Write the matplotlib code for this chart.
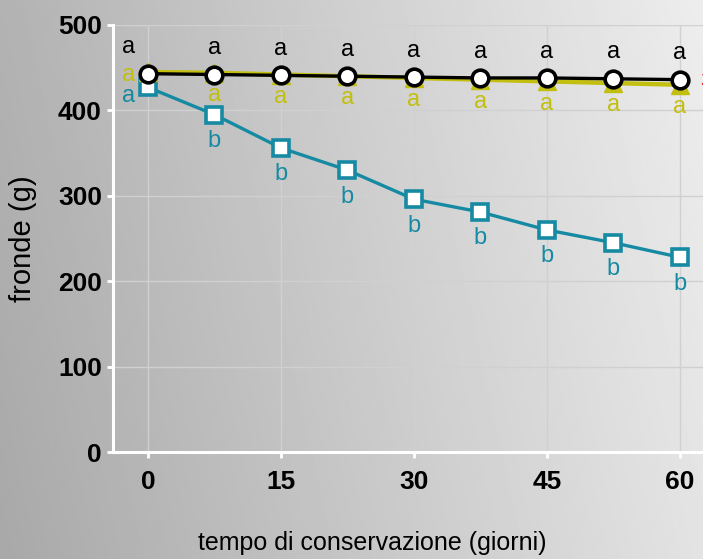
import numpy as np
import matplotlib
matplotlib.use("Agg")
import matplotlib.pyplot as plt

plt.rcParams["font.family"] = ["Liberation Sans", "DejaVu Sans"]

# giorni di conservazione e peso delle fronde (g)
days = [0, 7.5, 15, 22.5, 30, 37.5, 45, 52.5, 60]
fronde_nero = [443, 442, 441, 440, 439, 438, 438, 437, 436]
fronde_giallo = [445, 444, 442, 440, 438, 436, 434, 432, 430]
fronde_blu = [427, 395, 356, 330, 296, 281, 260, 245, 228]

lett_nero = ["a"] * 9
lett_giallo = ["a"] * 9
lett_blu = ["a"] + ["b"] * 8

x_ticks = [0, 15, 30, 45, 60]
y_ticks = [0, 100, 200, 300, 400, 500]

C_NERO = "#000000"
C_GIALLO = "#c2bf10"
C_BLU = "#168aa3"

fig = plt.figure(figsize=(7.03, 5.59), dpi=100)

# sfondo sfumato grigio
bg = fig.add_axes([0, 0, 1, 1], zorder=-10)
gx, gy = np.meshgrid(np.linspace(0, 1, 300), np.linspace(0, 1, 240))
shade = 0.66 + 0.23 * gx + 0.04 * gy
bg.imshow(shade, cmap="gray", vmin=0, vmax=1, aspect="auto",
          extent=[0, 1, 0, 1], origin="lower")
bg.axis("off")

ax = fig.add_axes([0.1607, 0.1914, 0.8393, 0.7639])
ax.set_facecolor("none")
ax.set_xlim(-3.95, 62.6)
ax.set_ylim(0, 500)

for sp in ["top", "right"]:
    ax.spines[sp].set_visible(False)
for sp in ["left", "bottom"]:
    ax.spines[sp].set_color("white")
    ax.spines[sp].set_linewidth(2.2)

ax.set_xticks(x_ticks)
ax.set_yticks(y_ticks)
ax.tick_params(colors="white", width=2, length=4, labelcolor="black",
               labelsize=19)
ax.tick_params(axis="x", pad=9)
ax.tick_params(axis="y", pad=4)
for lab in ax.get_xticklabels() + ax.get_yticklabels():
    lab.set_fontweight("bold")
ax.grid(True, color="#d0d0d0", lw=1)
ax.set_axisbelow(True)

ax.set_xlabel("tempo di conservazione (giorni)", fontsize=18, va="center")
ax.xaxis.set_label_coords(0.439, -0.213)
ax.set_ylabel("fronde (g)", fontsize=21, va="center")
ax.yaxis.set_label_coords(-0.153, 0.50)

ax.plot(days, fronde_blu, color=C_BLU, lw=2.4, marker="s", ms=12,
        mfc="white", mec=C_BLU, mew=2.6, zorder=3)
ax.plot(days, fronde_giallo, color=C_GIALLO, lw=3.2, marker="^", ms=13,
        mfc=C_GIALLO, mec=C_GIALLO, zorder=4)
ax.plot(days, fronde_nero, color=C_NERO, lw=2.4, marker="o", ms=12,
        mfc="white", mec=C_NERO, mew=2.6, zorder=5)

ann = dict(textcoords="offset points", ha="center", va="center",
           fontsize=17, zorder=6)
for i, (d, v, t) in enumerate(zip(days, fronde_nero, lett_nero)):
    off = (-14, 19) if i == 0 else (0, 19)
    ax.annotate(t, (d, v), xytext=off, color=C_NERO, **ann)
for i, (d, v, t) in enumerate(zip(days, fronde_giallo, lett_giallo)):
    off = (-14, -2) if i == 0 else (0, -16)
    ax.annotate(t, (d, v), xytext=off, color=C_GIALLO, **ann)
for i, (d, v, t) in enumerate(zip(days, fronde_blu, lett_blu)):
    off = (-14, -6) if i == 0 else (0, -19)
    ax.annotate(t, (d, v), xytext=off, color=C_BLU, **ann)

ax.text(62.3, fronde_nero[-1], "z", color="#e03030", fontsize=15,
        ha="left", va="center", clip_on=False)

fig.savefig("out.png", dpi=100)
